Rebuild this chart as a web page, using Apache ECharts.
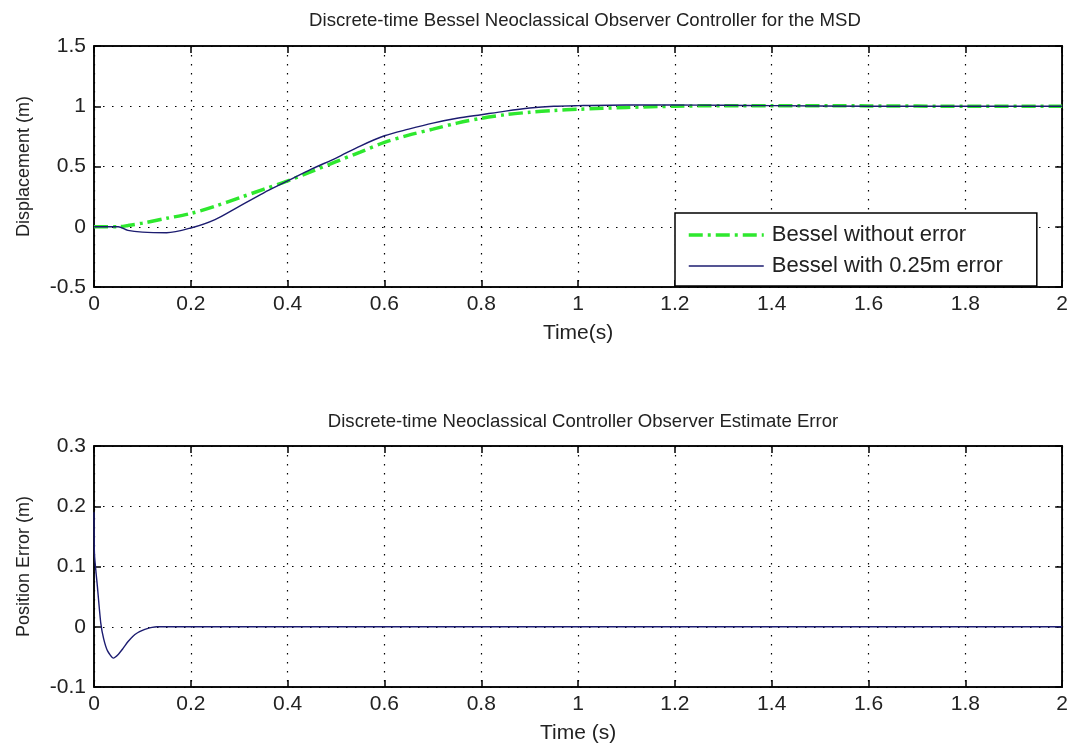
<!DOCTYPE html>
<html>
<head>
<meta charset="utf-8">
<script src="https://cdn.jsdelivr.net/npm/echarts@6/dist/echarts.min.js"></script>
<style>html,body{margin:0;padding:0;background:#fff;}#c{width:1071px;height:753px;}</style>
</head>
<body>
<div id="c"></div>
<script>
// ---- data ----
var tTop      = [0, 0.05, 0.07, 0.1, 0.15, 0.2, 0.25, 0.3, 0.35, 0.4, 0.45, 0.5, 0.55, 0.6, 0.65, 0.7, 0.75, 0.8, 0.85, 0.9, 0.95, 1.0, 1.1, 1.2, 1.3, 1.4, 1.6, 1.8, 2.0];
var withoutErr = [0, 0.0, 0.01, 0.03, 0.07, 0.11, 0.17, 0.24, 0.31, 0.38, 0.46, 0.54, 0.62, 0.70, 0.76, 0.81, 0.86, 0.90, 0.93, 0.95, 0.965, 0.975, 0.99, 1.0, 1.005, 1.005, 1.003, 1.0, 1.0];
var withErr    = [0, 0.0, -0.03, -0.045, -0.05, -0.01, 0.06, 0.17, 0.28, 0.38, 0.48, 0.57, 0.67, 0.755, 0.81, 0.86, 0.90, 0.93, 0.96, 0.985, 1.0, 1.005, 1.01, 1.01, 1.008, 1.005, 1.0, 1.0, 1.0];
var tErr   = [0, 0.001, 0.007, 0.014, 0.02, 0.028, 0.04, 0.05, 0.06, 0.07, 0.08, 0.09, 0.1, 0.11, 0.12, 0.13, 2.0];
var posErr = [0.19, 0.12, 0.067, 0.006, -0.02, -0.04, -0.052, -0.046, -0.036, -0.025, -0.016, -0.01, -0.006, -0.003, -0.001, 0, 0];
var seriesNames = ['Bessel without error', 'Bessel with 0.25m error'];
var titles = ['Discrete-time Bessel Neoclassical Observer Controller for the MSD', 'Discrete-time Neoclassical Controller Observer Estimate Error'];

function pairs(xs, ys){ return xs.map(function(x,i){ return [x, ys[i]]; }); }

var FONT = 'Liberation Sans';
var TXT = '#222';
var GREEN = '#2ee82e', NAVY = '#1c1c70';
var gridLine = {show:true, lineStyle:{color:'#000', type:[1.5,7.5], width:1.2}};

function xAx(gi, pos, labels, name){
  return {
    type:'value', gridIndex:gi, position:pos, min:0, max:2, interval:0.2,
    axisLine:{show:true, onZero:false, lineStyle:{color:'#000', width:1.5}},
    axisTick:{show:true, inside:true, length:7, lineStyle:{color:'#000', width:1.5}},
    axisLabel:{show:labels, color:TXT, fontFamily:FONT, fontSize:21, margin:7},
    splitLine: labels ? gridLine : {show:false},
    name: name || '', nameLocation:'middle', nameGap:36,
    nameTextStyle:{color:TXT, fontFamily:FONT, fontSize:21}
  };
}
function yAx(gi, pos, labels, mn, mx, iv, name){
  return {
    type:'value', gridIndex:gi, position:pos, min:mn, max:mx, interval:iv,
    axisLine:{show:true, onZero:false, lineStyle:{color:'#000', width:1.5}},
    axisTick:{show:true, inside:true, length:7, lineStyle:{color:'#000', width:1.5}},
    axisLabel:{show:labels, color:TXT, fontFamily:FONT, fontSize:21, margin:8},
    splitLine: labels ? gridLine : {show:false},
    name: name || '', nameLocation:'middle', nameGap:61, nameRotate:90,
    nameTextStyle:{color:TXT, fontFamily:FONT, fontSize:18}
  };
}

var chart = echarts.init(document.getElementById('c'), null, {renderer:'canvas'});
chart.setOption({
  animation:false,
  backgroundColor:'#fff',
  title:[
    {text:titles[0], left:580, top:6, textAlign:'center', textStyle:{fontFamily:FONT, fontSize:18.6, fontWeight:'normal', color:TXT}},
    {text:titles[1], left:578, top:407, textAlign:'center', textStyle:{fontFamily:FONT, fontSize:18.6, fontWeight:'normal', color:TXT}}
  ],
  grid:[
    {left:94, right:8, top:46, height:241, show:true, borderColor:'#000', borderWidth:1.5, backgroundColor:'#fff'},
    {left:94, right:8, top:446, height:241, show:true, borderColor:'#000', borderWidth:1.5, backgroundColor:'#fff'}
  ],
  legend:{
    left:675, top:213, orient:'vertical', itemWidth:75, itemHeight:14, itemGap:9,
    padding:[11,34,9,12], backgroundColor:'#fff', borderColor:'#000', borderWidth:1.5, borderRadius:0,
    itemStyle:{opacity:0, borderWidth:0},
    textStyle:{fontFamily:FONT, fontSize:22, color:TXT, padding:[0,0,0,3]},
    data:[
      {name:seriesNames[0], lineStyle:{width:3.5, color:GREEN, type:[14,5,3,5]}},
      {name:seriesNames[1], lineStyle:{width:1.4, color:NAVY}}
    ]
  },
  xAxis:[xAx(0,'bottom',true,'Time(s)'), xAx(0,'top',false), xAx(1,'bottom',true,'Time (s)'), xAx(1,'top',false)],
  yAxis:[yAx(0,'left',true,-0.5,1.5,0.5,'Displacement (m)'), yAx(0,'right',false,-0.5,1.5,0.5),
         yAx(1,'left',true,-0.1,0.3,0.1,'Position Error (m)'), yAx(1,'right',false,-0.1,0.3,0.1)],
  series:[
    {name:seriesNames[0], type:'line', xAxisIndex:0, yAxisIndex:0, data:pairs(tTop, withoutErr), symbol:'none', smooth:0.3,
     lineStyle:{color:GREEN, width:3.5, type:[14,5,3,5]}, itemStyle:{color:GREEN}, z:2},
    {name:seriesNames[1], type:'line', xAxisIndex:0, yAxisIndex:0, data:pairs(tTop, withErr), symbol:'none', smooth:0.3,
     lineStyle:{color:NAVY, width:1.4}, itemStyle:{color:NAVY}, z:3},
    {name:'err', type:'line', xAxisIndex:2, yAxisIndex:2, data:pairs(tErr, posErr), symbol:'none', smooth:0.2,
     lineStyle:{color:NAVY, width:1.4}, itemStyle:{color:NAVY}}
  ]
});
</script>
</body>
</html>
